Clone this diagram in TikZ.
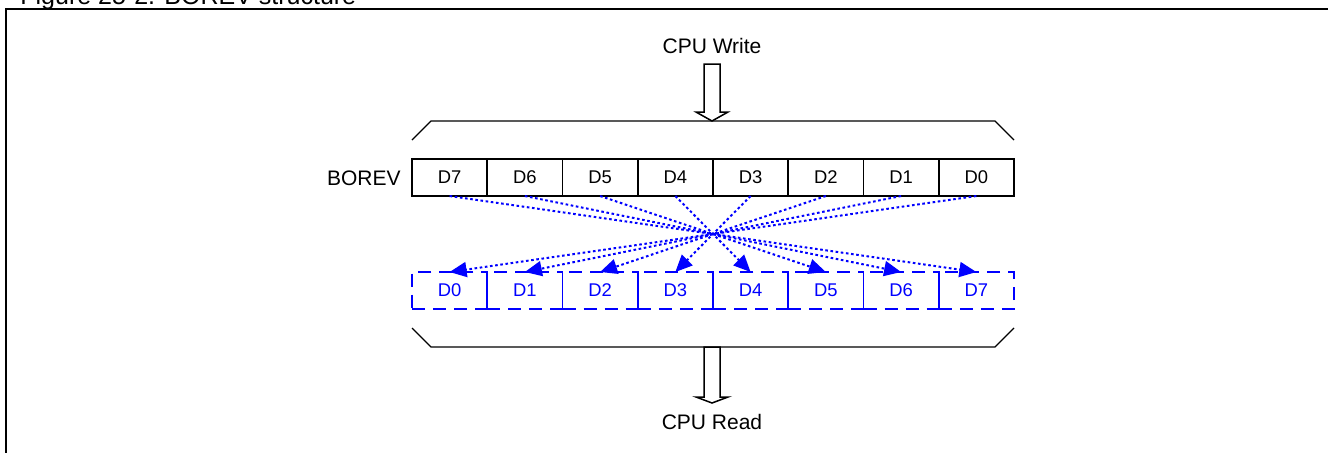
\documentclass[tikz,border=0pt]{standalone}
\usepackage{fontspec}
\setmainfont{Liberation Sans}
\usetikzlibrary{arrows.meta,positioning}
\definecolor{bvblue}{RGB}{0,0,255}

\begin{document}
\begin{tikzpicture}[
  x=0.5pt,y=-0.5pt,
  reg/.style={draw,line width=0.75pt,minimum width=37.6pt,minimum height=18.5pt,
    inner sep=0pt,outer sep=0pt,font=\fontsize{9.2}{10}\selectfont},
  rev/.style={reg,draw=bvblue,text=bvblue,line width=0.9pt,dash pattern=on 6.5pt off 4pt},
  swap/.style={bvblue,line width=1pt,dash pattern=on 1.3pt off 1.3pt,
    -{Triangle[length=8.5pt,width=7.5pt]}},
  lbl/.style={font=\fontsize{10.5}{12}\selectfont,inner sep=0pt},
  bracket/.style={line width=0.65pt},
  hollow/.style={line width=0.75pt,fill=white}
]
  \useasboundingbox (0,0) rectangle (1328,452);
  % frame and title
  \node[lbl,anchor=base west,font=\fontsize{12.5}{14}\selectfont] (title) at (20,4) {Figure 25-2. BOREV structure};
  \draw[line width=1pt] (6,9) rectangle (1345,470);
  % CPU side
  \node[lbl,anchor=base] (wr) at (712,53) {CPU Write};
  \node[lbl,anchor=base] (rd) at (712,429) {CPU Read};
  \node[lbl,anchor=base east] (borev) at (401,185) {BOREV};
  % brackets
  \draw[bracket] (412,140) -- (431,121) -- (995,121) -- (1014,140);
  \draw[bracket] (412,328) -- (431,347) -- (995,347) -- (1014,328);
  % hollow arrows
  \draw[hollow] (704,64) -- (720,64) -- (720,112) -- (728,112) -- (712,121)
    -- (696,112) -- (704,112) -- cycle;
  \draw[hollow] (704,347) -- (720,347) -- (720,397) -- (728,397) -- (712,403)
    -- (696,397) -- (704,397) -- cycle;
  % register and reversed bits
  \foreach \i in {0,...,7}{
    \pgfmathtruncatemacro\k{7-\i}
    \node[reg] (r\k) at ({449.6+75.25*\i},177.5) {D\k};
    \node[rev] (b\i) at ({449.6+75.25*\i},290.5) {D\i};
  }
  \foreach \k in {0,...,7}
    \draw[swap] (r\k.south) -- (b\k.north);
\end{tikzpicture}
\end{document}
